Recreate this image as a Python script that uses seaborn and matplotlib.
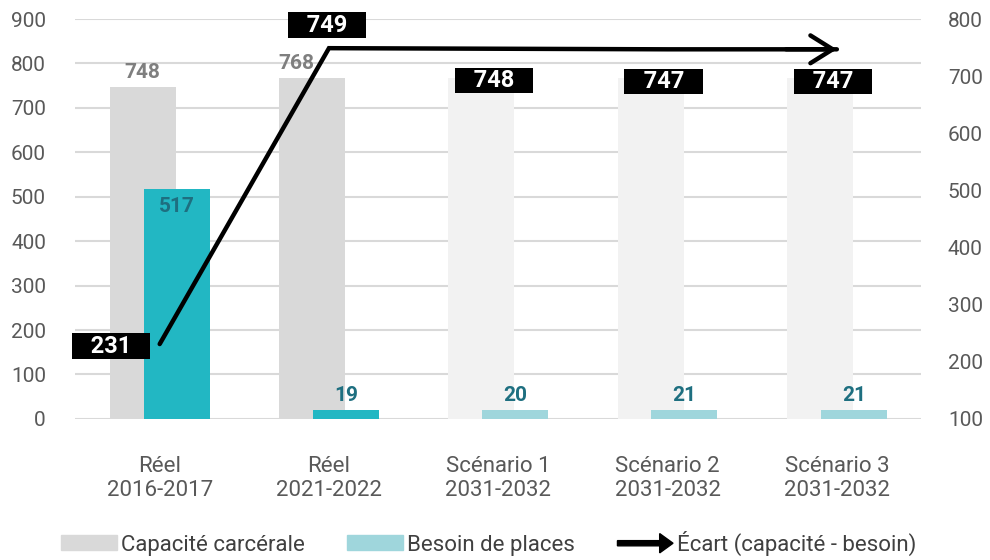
import numpy as np
import pandas as pd
import matplotlib
matplotlib.use("Agg")
import matplotlib.pyplot as plt
import matplotlib.patches as mpatches
from matplotlib.legend_handler import HandlerPatch
import seaborn as sns

categories = ["Réel\n2016-2017", "Réel\n2021-2022", "Scénario 1\n2031-2032",
              "Scénario 2\n2031-2032", "Scénario 3\n2031-2032"]
capacite = [748, 768, 768, 768, 768]
besoin = [517, 19, 20, 21, 21]
ecart = [231, 749, 748, 747, 747]

cap_colors = ["#d9d9d9", "#d9d9d9", "#f2f2f2", "#f2f2f2", "#f2f2f2"]
bes_colors = ["#22b7c3", "#22b7c3", "#9fd6dc", "#9fd6dc", "#9fd6dc"]

sns.set_style("white")
plt.rcParams["font.family"] = ["Roboto", "DejaVu Sans"]

df = pd.DataFrame({"cat": categories, "cap": capacite, "bes": besoin, "ecart": ecart})

fig = plt.figure(figsize=(9.9, 5.6), dpi=100)
ax = fig.add_axes([0.0758, 0.252, 0.855, 0.714])

w = 0.39
off = 0.1
sns.barplot(data=df, x="cat", y="cap", hue="cat", palette=cap_colors, width=w,
            legend=False, ax=ax, saturation=1, linewidth=0)
n_cap = len(ax.patches)
for p in ax.patches:
    p.set_x(p.get_x() - off)
sns.barplot(data=df, x="cat", y="bes", hue="cat", palette=bes_colors, width=w,
            legend=False, ax=ax, saturation=1, linewidth=0)
for p in ax.patches[n_cap:]:
    p.set_x(p.get_x() + off)

ax.set_xlim(-0.5, 4.5)
ax.set_ylim(0, 900)
ax.set_yticks(range(0, 901, 100))
ax.grid(axis="y", color="#d9d9d9", lw=1.5)
ax.set_axisbelow(True)
ax.set_xlabel("")
ax.set_ylabel("")
for s in ax.spines.values():
    s.set_visible(False)
ax.tick_params(axis="y", length=0, colors="#595959", labelsize=15, pad=21)
ax.tick_params(axis="x", length=0, colors="#595959", labelsize=16, pad=27)
for t in ax.get_xticklabels():
    t.set_linespacing(1.15)

# labels capacity (real years only)
cap_dx = [0, -16]
for i in range(2):
    ax.annotate(str(capacite[i]), (i - off, capacite[i]), xytext=(cap_dx[i], 5),
                textcoords="offset pixels", ha="center", va="bottom",
                fontsize=15, fontweight="bold", color="#7f7f7f")
# labels besoin
for i, v in enumerate(besoin):
    if v > 100:
        ax.annotate(str(v), (i + off, v), xytext=(0, -8), textcoords="offset pixels",
                    ha="center", va="top", fontsize=15, fontweight="bold", color="#1e6f80")
    else:
        ax.annotate(str(v), (i + off, v), xytext=(0, 5), textcoords="offset pixels",
                    ha="center", va="bottom", fontsize=15, fontweight="bold", color="#1e6f80")

ax2 = ax.twinx()
xpos = np.arange(len(categories))
sns.lineplot(x=xpos, y=ecart, ax=ax2, color="black", lw=3.2,
             solid_capstyle="round", solid_joinstyle="miter")
ax2.set_ylim(100, 800)
ax2.set_yticks(range(100, 801, 100))
ax2.set_xlim(-0.5, 4.5)
for s in ax2.spines.values():
    s.set_visible(False)
ax2.tick_params(axis="y", length=0, colors="#595959", labelsize=15, pad=19)
ax2.grid(False)

ax2.annotate("", xy=(xpos[-1], ecart[-1]), xytext=(xpos[-1] - 0.3, ecart[-1]),
             arrowprops=dict(arrowstyle="->,head_length=0.8,head_width=0.5", lw=3.2,
                             color="black", shrinkA=0, shrinkB=0, mutation_scale=20,
                             capstyle="round"))

offsets = [(-49, -2), (-2, 23), (-4, -32), (-4, -32), (-4, -32)]
for i, v in enumerate(ecart):
    ax2.annotate(f"   {v}   ", (xpos[i], v), xytext=offsets[i], textcoords="offset pixels",
                 ha="center", va="center", fontsize=17, fontweight="bold", color="white",
                 bbox=dict(boxstyle="square,pad=0.05", fc="black", ec="none"))


def make_arrow(legend, orig_handle, xdescent, ydescent, width, height, fontsize):
    return mpatches.FancyArrow(0, height / 2, width, 0, width=height * 0.35,
                               head_width=height * 1.3, head_length=height * 0.9,
                               length_includes_head=True, color="black")


handles = [mpatches.Patch(color="#d9d9d9", label="Capacité carcérale"),
           mpatches.Patch(color="#9fd6dc", label="Besoin de places"),
           mpatches.FancyArrow(0, 0, 1, 0, color="black", label="Écart (capacité - besoin)")]
fig.legend(handles=handles, loc="center", bbox_to_anchor=(0.494, 0.03), ncol=3,
           frameon=False, fontsize=16, labelcolor="#404040", handlelength=2.5,
           handleheight=0.65, handletextpad=0.2, columnspacing=1.9,
           handler_map={mpatches.FancyArrow: HandlerPatch(patch_func=make_arrow)})

fig.savefig("out.png", dpi=100)
